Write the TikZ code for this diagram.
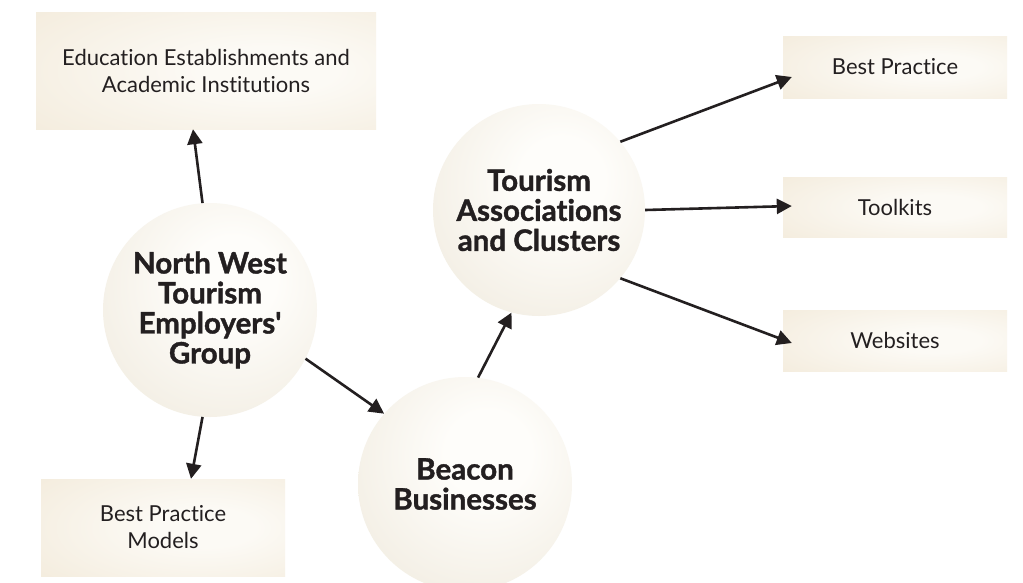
\documentclass[tikz,border=0pt]{standalone}
\usepackage{fontspec}
\setmainfont{Lato}[Ligatures={NoCommon}, BoldFeatures={FakeBold=1.3}]
\usetikzlibrary{arrows.meta,calc}
\definecolor{ink}{HTML}{231F20}
\definecolor{boxedge}{HTML}{F2E9D8}
\definecolor{boxmid}{HTML}{FCFAF5}
\definecolor{sphA}{HTML}{FEFDFA}
\definecolor{sphB}{HTML}{F2EDE2}
\definecolor{sphC}{HTML}{E8E1D2}
\definecolor{sphD}{HTML}{D6CEBD}
\pgfdeclareradialshading{ballshade}{\pgfpoint{6bp}{8bp}}{color(0bp)=(sphA); color(10bp)=(sphA); color(36bp)=(sphB); color(50bp)=(sphC); color(57bp)=(sphD); color(100bp)=(sphD)}
\pgfdeclareradialshading{boxshade}{\pgfpoint{10bp}{0bp}}{color(0bp)=(boxmid); color(10bp)=(boxmid); color(48bp)=(boxedge); color(100bp)=(boxedge)}
\tikzset{
  bubble/.style={circle, minimum size=214pt, inner sep=0pt, shading=ballshade, text=ink, align=center, font=\bfseries\fontsize{29.5}{30}\selectfont},
  panel/.style={rectangle, shading=boxshade, text=ink, align=center, inner sep=0pt, font=\fontsize{22}{27}\selectfont},
  arr/.style={draw=ink, line width=2.6pt, -{Triangle[length=15pt,width=15pt]}}
}
\begin{document}
\begin{tikzpicture}[x=1pt,y=-1pt]
\fill[white] (0,0) rectangle (1023,582);
\useasboundingbox (0,0) rectangle (1023,582);
% boxes
\node[panel, minimum width=340pt, minimum height=117pt] (edu) at (206,70.5) {Education Establishments and\\Academic Institutions};
\node[panel, minimum width=244pt, minimum height=97pt] (bpm) at (163,527.5) {Best Practice\\Models};
\node[panel, minimum width=224pt, minimum height=62pt] (bp) at (895,67) {Best Practice};
\node[panel, minimum width=224pt, minimum height=60pt] (tk) at (895,207) {Toolkits};
\node[panel, minimum width=224pt, minimum height=61pt] (ws) at (895,340.5) {Websites};
% circles
\node[bubble] (nw) at (210,310) {North West\\Tourism\\Employers\textquotesingle\\Group};
\node[bubble, minimum size=212pt] (ta) at (539,210) {Tourism\\Associations\\and Clusters};
\node[bubble] (bb) at (465,484) {Beacon\\Businesses};
% connectors
\draw[arr] (nw.94) -- ($(edu.south)+(-13,0)$);
\draw[arr] (nw.266) -- ($(bpm.north)+(28,0)$);
\draw[arr] (nw.-27) -- (bb.139);
\draw[arr] (bb.83) -- (ta.255);
\draw[arr] (ta.40) -- ($(bp.west)+(9,10)$);
\draw[arr] (ta.0) -- ($(tk.west)+(9,-1)$);
\draw[arr] (ta.-40) -- ($(ws.west)+(9,2.5)$);
\end{tikzpicture}
\end{document}
